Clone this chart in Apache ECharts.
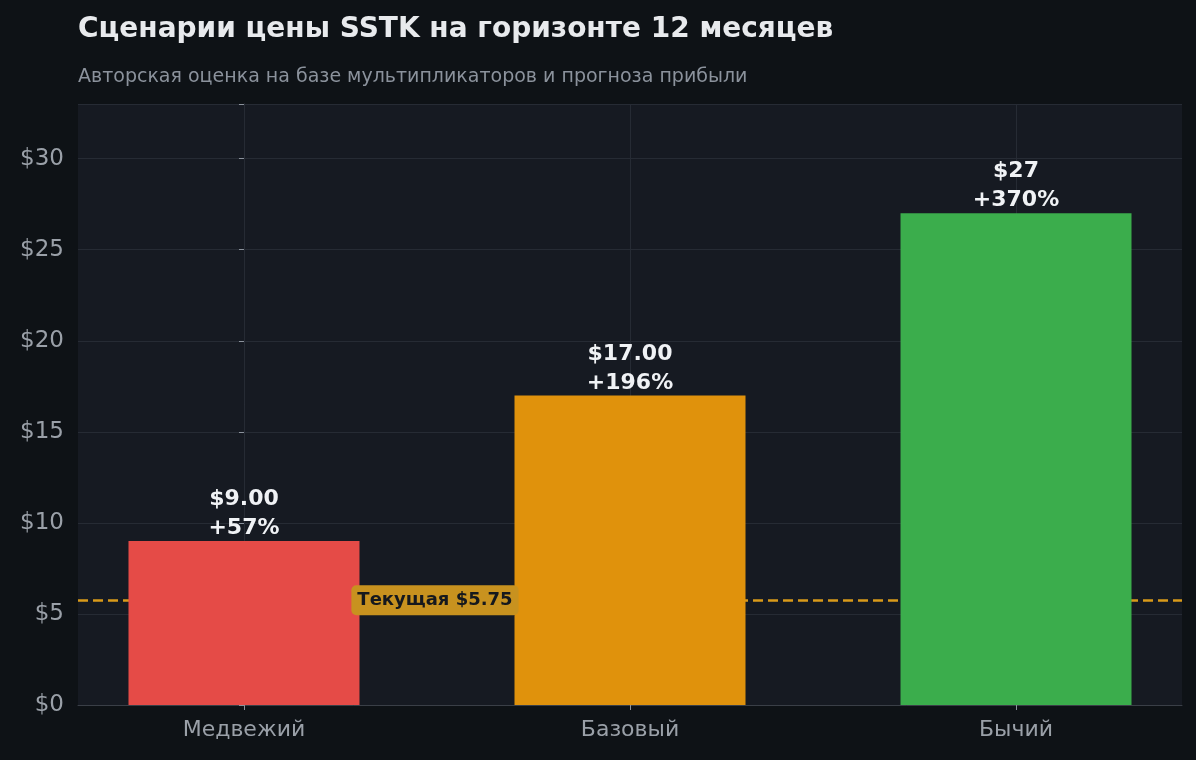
<!DOCTYPE html>
<html><head><meta charset="utf-8">
<script src="https://cdn.jsdelivr.net/npm/echarts@6/dist/echarts.min.js"></script>
<style>html,body{margin:0;background:#0e1216}#c{width:1196px;height:760px}</style>
</head><body><div id="c"></div>
<script>
const categories = ['Медвежий', 'Базовый', 'Бычий'];
const prices = [9, 17, 27];
const priceLabels = ['$9.00', '$17.00', '$27'];
const changeLabels = ['+57%', '+196%', '+370%'];
const currentPrice = 5.75;
const colors = ['#e54b47', '#e0920c', '#3bad4c'];
const positions = [0, 1, 2];

const chart = echarts.init(document.getElementById('c'));
const F = '"DejaVu Sans", sans-serif';
chart.setOption({
  backgroundColor: '#0e1216',
  title: {
    text: 'Сценарии цены SSTK на горизонте 12 месяцев',
    subtext: 'Авторская оценка на базе мультипликаторов и прогноза прибыли',
    left: 73, top: 11, itemGap: 24,
    textStyle: {color: '#e8eaed', fontSize: 28, fontWeight: 'bold', fontFamily: F},
    subtextStyle: {color: '#8b929c', fontSize: 19, fontFamily: F}
  },
  grid: {left: 78, right: 14, top: 104, bottom: 55, backgroundColor: '#161a22', show: true, borderWidth: 0},
  xAxis: {
    type: 'value', min: -0.43, max: 2.43,
    axisLine: {lineStyle: {color: '#3a3f47'}},
    axisTick: {show: true, customValues: positions, lineStyle: {color: '#8b929c'}},
    axisLabel: {color: '#9aa0a8', fontSize: 22, fontFamily: F, margin: 14, customValues: positions,
      formatter: v => categories[Math.round(v)] || ''},
    splitLine: {show: false}
  },
  yAxis: {
    type: 'value', min: 0, max: 33, interval: 5,
    axisLine: {show: true, lineStyle: {color: '#3a3f47'}},
    axisTick: {show: true, lineStyle: {color: '#8b929c'}},
    axisLabel: {color: '#9aa0a8', fontSize: 23, fontFamily: F, margin: 14, formatter: v => v > 30 ? '' : '$' + v},
    splitLine: {lineStyle: {color: '#262b34'}}
  },
  series: [{
    type: 'bar', barWidth: 231,
    data: prices.map((v, i) => ({value: [positions[i], v], itemStyle: {color: colors[i]}})),
    label: {
      show: true, position: 'top', distance: -2, color: '#f0f2f5', fontSize: 22, fontWeight: 'bold', fontFamily: F, lineHeight: 29,
      formatter: p => priceLabels[p.dataIndex] + '\n' + changeLabels[p.dataIndex]
    },
    markLine: {
      silent: true, symbol: 'none', z: 1,
      data: [
        ...positions.map(c => ({xAxis: c, lineStyle: {color: '#262b34', type: 'solid', width: 1}, label: {show: false}})),
        {yAxis: currentPrice, lineStyle: {color: '#d99a1a', type: 'dashed', width: 2.5, opacity: 1}, label: {show: false}}
      ]
    },
    markPoint: {
      silent: true, symbol: 'rect', symbolSize: 1, itemStyle: {color: 'rgba(0,0,0,0)'},
      data: [{coord: [positions[0], currentPrice]}],
      label: {
        show: true, position: 'inside', offset: [191, 0], opacity: 1,
        formatter: 'Текущая $' + currentPrice.toFixed(2),
        color: '#15181d', fontSize: 18, fontWeight: 'bold', fontFamily: F,
        backgroundColor: '#c8921f', borderRadius: 5, padding: [6, 6]
      }
    }
  }]
});
</script></body></html>
